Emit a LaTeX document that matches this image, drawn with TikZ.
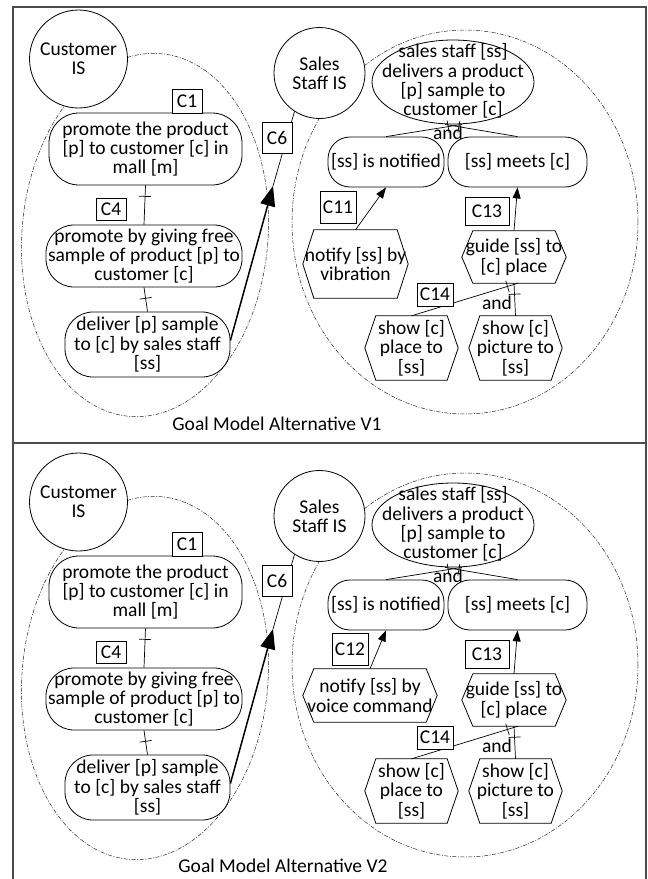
\documentclass[tikz,border=0pt]{standalone}
\usepackage{fontspec}
\setmainfont{Carlito}
\usetikzlibrary{shapes.geometric,arrows.meta,decorations.markings}

\newcommand\gmfont{\fontsize{19.5pt}{19.3pt}\selectfont}
% hexagonal task outline around a plain rectangular node
\newcommand\hexout[1]{%
  \draw[shapeline] (#1.west) -- ([xshift=11pt]#1.north west) -- ([xshift=-11pt]#1.north east)
    -- (#1.east) -- ([xshift=-11pt]#1.south east) -- ([xshift=11pt]#1.south west) -- cycle;}

% parts shared by both goal model alternatives
\newcommand\panelcommon{%
  % boundaries of the two information systems
  \begin{scope}[shift={(145,235)},rotate=-5]
    \draw[bound] (0,0) ellipse [x radius=123pt, y radius=182pt];
  \end{scope}
  \draw[bound] (465,222) ellipse [x radius=173pt, y radius=192pt];
  % actors
  \node[agent, minimum size=98pt] (cc) at (78.5,59) {Customer\\IS};
  \node[agent, minimum size=91pt] (sc) at (319.5,73) {Sales\\Staff IS};
  % customer goals
  \node[goal=30pt, minimum width=193pt, minimum height=72pt] (g1) at (145.5,149)
    {promote the product\\{}[p] to customer [c] in\\mall [m]};
  \node[goal=28pt, minimum width=196pt, minimum height=62pt] (g2) at (144,256)
    {promote by giving free\\sample of product [p] to\\customer [c]};
  \node[goal=28pt, minimum width=165pt, minimum height=65pt] (g3) at (147.5,344.5)
    {deliver [p] sample\\to [c] by sales staff\\{}[ss]};
  % sales staff goals
  \node[shapeline, fill=white, ellipse, minimum width=162pt, minimum height=84pt, inner sep=0pt] (sg) at (453,82) {};
  \node[txt] (sgt) at (453,81) {sales staff [ss]\\delivers a product\\{}[p] sample to\\customer [c]};
  \node[goal=22pt, minimum width=116pt, minimum height=50pt] (ni) at (386,162) {[ss] is notified};
  \node[goal=22pt, minimum width=139pt, minimum height=50pt] (nm) at (517.5,162) {[ss] meets [c]};
  \node[hexa, minimum width=104pt, minimum height=52pt] (hg) at (514,257) {guide [ss] to\\{}[c] place};
  \hexout{hg}
  \node[hexa, minimum width=93pt, minimum height=64pt] (hp) at (411.5,348) {show [c]\\place to\\{}[ss]};
  \hexout{hp}
  \node[hexa, minimum width=93pt, minimum height=64pt] (hq) at (515.5,348) {show [c]\\picture to\\{}[ss]};
  \hexout{hq}
  % refinements
  \draw[decomp] (g2.north) -- (g1.south);
  \draw[decomp] (g3.north) -- (g2.south);
  \draw[decomp=14pt] (ni.north) -- ([xshift=9pt]sg.south);
  \draw[decomp=14pt] (nm.north) -- ([xshift=-8pt]sg.south);
  \draw[decomp] (hp.north) -- ([xshift=4pt]hg.south);
  \draw[decomp] (hq.north) -- (hg.south);
  \node[txt] (and1) at (448,133) {and};
  \node[txt] (and2) at (497,303) {and};
  \draw[arr] (hg.north) -- (nm.south);
  % delegation to the sales staff
  \coordinate (tip) at (273,186);
  \draw[bigarr] ([yshift=4pt]g3.east) -- (tip);
  \draw[link] (tip) -- (sc.237);
  % context labels
  \node[lbl, minimum width=30pt, minimum height=24pt] (c1) at (187,101) {C1};
  \node[lbl, minimum width=30pt, minimum height=22pt] (c4) at (111,209.5) {C4};
  \node[lbl, minimum width=30pt, minimum height=31pt] (c6) at (277,137.5) {C6};
  \node[lbl, minimum width=44pt, minimum height=28pt] (c13) at (487,211) {C13};
  \node[lbl, minimum width=36pt, minimum height=23pt] (c14) at (435,294.5) {C14};
}

\begin{document}
\begin{tikzpicture}[x=1pt,y=-1pt,
  txt/.style={font=\gmfont, align=center, inner sep=0pt, text=black},
  shapeline/.style={draw=black, line width=0.8pt},
  goal/.style={txt, shapeline, fill=white, rectangle, rounded corners=#1},
  goal/.default=24pt,
  agent/.style={txt, shapeline, fill=white, circle},
  hexa/.style={txt, rectangle},
  lbl/.style={txt, shapeline, fill=white, rectangle},
  bound/.style={draw=black!85, line width=0.5pt, dash pattern=on 4pt off 1.5pt on 1pt off 1.5pt},
  link/.style={draw=black, line width=0.7pt},
  decomp/.style={link, postaction={decorate, decoration={markings,
      mark=at position -#1 with {\draw[link] (0pt,-6pt) -- (0pt,6pt);}}}},
  decomp/.default=11pt,
  arr/.style={link, -{Triangle[length=11pt,width=8pt]}},
  bigarr/.style={draw=black, line width=1.5pt, -{Triangle[length=20pt,width=15pt]}},
  frame/.style={draw=black!70, line width=1.5pt}]
\useasboundingbox (0,0) rectangle (648,879);
\draw[frame] (13,879) -- (13,7) -- (646,7) -- (646,879);
\draw[frame] (13,443) -- (646,443);

% alternative V1: notification by vibration
\begin{scope}[name prefix=a-]
  \panelcommon
  \node[hexa, minimum width=105pt, minimum height=68pt] (hn) at (355.5,264) {notify [ss] by\\vibration};
  \hexout{hn}
  \draw[arr] (hn.north) -- (ni.south);
  \node[lbl, minimum width=36pt, minimum height=32pt] (cn) at (338,207) {C11};
  \node[txt] (title) at (277,424) {Goal Model Alternative V1};
\end{scope}

% alternative V2: notification by voice command
\begin{scope}[shift={(0,443)}, name prefix=b-]
  \panelcommon
  \node[hexa, minimum width=134pt, minimum height=53pt] (hn) at (370,252.5) {notify [ss] by\\voice command};
  \hexout{hn}
  \draw[arr] (hn.north) -- (ni.south);
  \node[lbl, minimum width=36pt, minimum height=32pt] (cn) at (350,206) {C12};
  \node[txt] (title) at (283,423) {Goal Model Alternative V2};
\end{scope}
\end{tikzpicture}
\end{document}
